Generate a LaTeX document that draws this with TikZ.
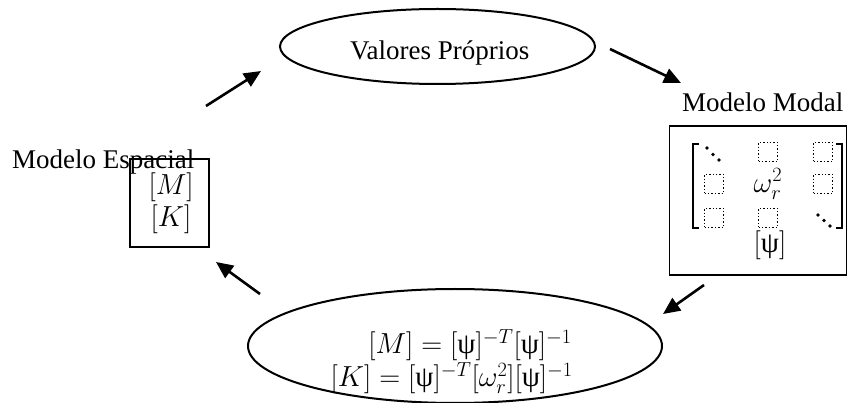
\RequirePackage{fix-cm}
\documentclass[tikz,border=0pt]{standalone}
\usepackage{amsmath}
\usepackage{fontspec}
\setmainfont{Liberation Serif}
\usetikzlibrary{arrows.meta,shapes.geometric}
\newcommand{\psy}{\text{ψ}}
\begin{document}
\begin{tikzpicture}[x=1pt,y=-1pt, font=\fontsize{27}{32}\selectfont,
  conn/.style={line width=2.6pt, -{Triangle[length=17pt,width=15pt]}},
  oval/.style={draw, ellipse, line width=2pt, inner sep=0pt},
  frame/.style={draw, rectangle, line width=1.6pt, inner sep=0pt},
  dbox/.style={draw, dotted, line width=1.4pt, minimum width=19pt, minimum height=19pt, inner sep=0pt},
  lbl/.style={inner sep=0pt, anchor=base west},
  txt/.style={inner sep=0pt},
  mtxt/.style={inner sep=0pt, font=\fontsize{29}{34}\selectfont},
  brk/.style={line width=1.3pt},
  ddot/.style={fill=black, draw=none}]
\useasboundingbox (0,0) rectangle (849,403);

% top ellipse
\node[oval, minimum width=315pt, minimum height=75pt] (vp) at (437.5,46.5) {};
\node[lbl] (vpt) at (350,60) {Valores Próprios};

% spatial model
\node[frame, minimum width=79pt, minimum height=88pt] (sp) at (169.5,203) {};
\node[lbl] (spt) at (12,169) {Modelo Espacial};
\node[mtxt] (spm) at (171,187) {$[M]$};
\node[mtxt] (spk) at (171,219) {$[K]$};

% modal model
\node[frame, minimum width=177pt, minimum height=149pt] (mm) at (758,200.5) {};
\node[lbl] (mmt) at (682,112) {Modelo Modal};
\draw[brk] (699,144) -- (693,144) -- (693,228) -- (699,228);
\draw[brk] (836,144) -- (842,144) -- (842,228) -- (836,228);
\foreach \p in {(707,148),(713,154.5),(719,160),(818,215),(824,220.5),(830,226)}
  \fill[ddot] \p circle (1.8pt);
\node[dbox] (d12) at (768,152) {};
\node[dbox] (d13) at (823,152) {};
\node[dbox] (d21) at (714,184) {};
\node[dbox] (d23) at (823,184) {};
\node[dbox] (d31) at (714,218) {};
\node[dbox] (d32) at (768,218) {};
\node[mtxt] (om) at (768,184) {$\omega_r^2$};
\node[mtxt] (psi) at (770,245) {$[\psy]$};

% bottom ellipse
\node[oval, minimum width=414pt, minimum height=114pt] (bo) at (455,346) {};
\node[mtxt, anchor=east] (eq1) at (572,345) {$[M]=[\psy]^{-T}[\psy]^{-1}$};
\node[mtxt, anchor=east] (eq2) at (573,378) {$[K]=[\psy]^{-T}[\omega_r^2][\psy]^{-1}$};

% arrows
\coordinate (a1s) at (206,106); \coordinate (a1e) at (261,71);
\coordinate (a2s) at (610,49);  \coordinate (a2e) at (681,83);
\coordinate (a3s) at (704,285); \coordinate (a3e) at (663,314);
\coordinate (a4s) at (260,294); \coordinate (a4e) at (216,262);
\draw[conn] (a1s) -- (a1e);
\draw[conn] (a2s) -- (a2e);
\draw[conn] (a3s) -- (a3e);
\draw[conn] (a4s) -- (a4e);
\end{tikzpicture}
\end{document}
